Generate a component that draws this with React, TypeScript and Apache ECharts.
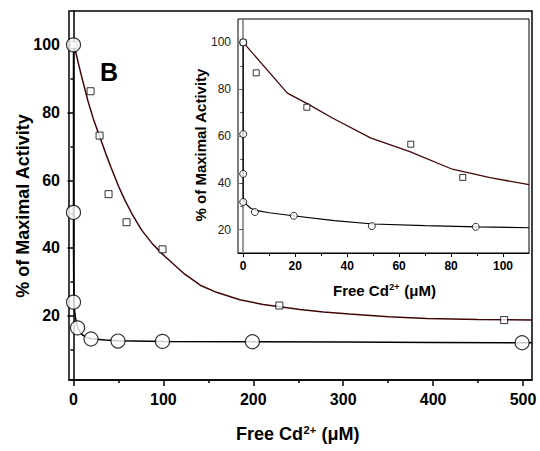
import React, { useEffect, useRef } from "react";
import * as echarts from "echarts";

// ---- Main panel data ----
const mainSquareX = [0, 19, 29, 39, 59, 99, 229, 479];
const mainSquareY = [100, 86.3, 73.2, 55.9, 47.6, 39.6, 23, 18.7];
const mainCircleX = [0, 0, 0, 4.5, 19.5, 49.5, 99, 199, 499];
const mainCircleY = [100, 50.5, 24, 16.4, 13.1, 12.5, 12.4, 12.3, 12.0];
const mainSquareFitX = [0, 1, 5, 9, 16, 22, 29, 36, 42, 50, 57, 66, 76, 87, 98, 109, 123, 141, 159, 185, 211, 252, 278, 307, 350, 393, 450, 510];
const mainSquareFitY = [100, 99.6, 95, 90.7, 83.5, 78.2, 73, 67.8, 63.6, 58.3, 54.2, 49.6, 45.2, 41.5, 38.4, 35.8, 32.4, 29.0, 26.9, 24.7, 23.3, 21.8, 21.1, 20.5, 19.7, 19.2, 18.9, 18.7];
const mainCircleFitX = [0, 0, 0.3, 1, 2, 3.5, 5, 7.5, 10, 15, 20, 35, 50, 100, 200, 300, 400, 510];
const mainCircleFitY = [100, 40, 27, 22, 19.7, 17.6, 16.3, 15.1, 14.3, 13.6, 13.2, 12.8, 12.6, 12.4, 12.3, 12.2, 12.1, 12.0];
const mainXTicks = [0, 100, 200, 300, 400, 500];
const mainXMinor = [50, 150, 250, 350, 450];
const mainYTicks = [20, 40, 60, 80, 100];
const mainYMinor = [10, 30, 50, 70, 90];

// ---- Inset data ----
const insetSquareX = [0, 5, 24.5, 64.5, 84.5];
const insetSquareY = [100, 87, 72.3, 56.5, 42.3];
const insetCircleX = [0, 0, 0, 0, 4.5, 19.5, 49.5, 89.5];
const insetCircleY = [100, 60.8, 43.8, 31.8, 27.5, 25.9, 21.5, 21.2];
const insetSquareFitX = [0, 17, 25, 34.5, 49.2, 63.9, 80.5, 95, 110];
const insetSquareFitY = [100, 78.3, 73.6, 67.6, 59.1, 53.4, 45.8, 42.2, 39.2];
const insetCircleFitX = [0, 0, 0.5, 1, 3, 5, 10, 20, 35, 50, 70, 90, 110];
const insetCircleFitY = [100, 34, 32, 31, 29, 28.2, 27.2, 25.8, 23.8, 22.4, 21.7, 21.2, 20.8];
const insetXTicks = [0, 20, 40, 60, 80, 100];
const insetXMinor = [10, 30, 50, 70, 90];
const insetYTicks = [20, 40, 60, 80, 100];
const insetYMinor = [30, 50, 70, 90];

const FONT = "'Liberation Sans', Arial, Helvetica, sans-serif";
const FIT_RED = "#420707";

const zip = (xs: number[], ys: number[]) => xs.map((x, i) => [x, ys[i]]);

const boldText = (text: string, x: number, y: number, size: number, align: string, vAlign: string, rotation = 0) => ({
  type: "text", x, y, rotation, z: 10,
  style: { text, fontFamily: FONT, fontWeight: "bold", fontSize: size, fill: "#000", align, verticalAlign: vAlign },
});

// axis title "Free Cd2+ (μM)" built from three pieces so the charge is a true superscript
const cdLabel = (left: number, baseline: number, size: number) => {
  const w1 = 3.723 * size; // width of "Free Cd" in bold Arial metrics
  const supSize = Math.round(size * 0.6);
  const w2 = 1.14 * supSize + 1;
  return [
    boldText("Free Cd", left, baseline, size, "left", "bottom"),
    boldText("2+", left + w1 + 0.5, baseline - size * 0.42, supSize, "left", "bottom"),
    boldText(" (μM)", left + w1 + w2, baseline, size, "left", "bottom"),
  ];
};

export default function App() {
  const ref = useRef<HTMLDivElement>(null);
  useEffect(() => {
    if (!ref.current) return;
    const chart = echarts.init(ref.current, null, { renderer: "svg" });
    const black = { color: "#000", width: 1.5 };
    const option: any = {
      animation: false,
      backgroundColor: "#fff",
      grid: [
        { left: 69, right: 8, top: 11, bottom: 71, show: true, borderColor: "#000", borderWidth: 1.5 },
        { left: 238, right: 11, top: 19, bottom: 198, show: true, borderColor: "#000", borderWidth: 1, backgroundColor: "#fff" },
      ],
      xAxis: [
        {
          gridIndex: 0, type: "value", min: -5, max: 510, position: "bottom",
          axisLine: { lineStyle: black },
          axisTick: { customValues: mainXTicks, length: 6, lineStyle: black },
          axisLabel: { customValues: mainXTicks, margin: 11, fontFamily: FONT, fontWeight: "bold", fontSize: 16, color: "#000" },
          splitLine: { show: false },
        },
        {
          gridIndex: 0, type: "value", min: -5, max: 510, position: "bottom",
          axisLine: { show: false },
          axisTick: { customValues: mainXMinor, length: 3, lineStyle: black },
          axisLabel: { show: false },
          splitLine: { show: false },
        },
        {
          gridIndex: 1, type: "value", min: -2, max: 110, position: "bottom",
          axisLine: { lineStyle: { color: "#000", width: 1 } },
          axisTick: { customValues: insetXTicks, length: 4, lineStyle: { color: "#000", width: 1 } },
          axisLabel: { customValues: insetXTicks, margin: 7, fontFamily: FONT, fontWeight: "bold", fontSize: 12, color: "#000" },
          splitLine: { show: false },
        },
        {
          gridIndex: 1, type: "value", min: -2, max: 110, position: "bottom",
          axisLine: { show: false },
          axisTick: { customValues: insetXMinor, length: 3, lineStyle: { color: "#000", width: 1 } },
          axisLabel: { show: false },
          splitLine: { show: false },
        },
      ],
      yAxis: [
        {
          gridIndex: 0, type: "value", min: 1, max: 110, position: "left",
          axisLine: { lineStyle: black },
          axisTick: { customValues: mainYTicks, length: 6, lineStyle: black },
          axisLabel: { customValues: mainYTicks, margin: 9, fontFamily: FONT, fontWeight: "bold", fontSize: 16, color: "#000" },
          splitLine: { show: false },
        },
        {
          gridIndex: 0, type: "value", min: 1, max: 110, position: "left",
          axisLine: { show: false },
          axisTick: { customValues: mainYMinor, length: 3, lineStyle: black },
          axisLabel: { show: false },
          splitLine: { show: false },
        },
        {
          gridIndex: 1, type: "value", min: 10, max: 110, position: "left",
          axisLine: { lineStyle: { color: "#777", width: 1.5 } },
          axisTick: { customValues: insetYTicks, length: 4, lineStyle: { color: "#555", width: 1 } },
          axisLabel: { customValues: insetYTicks, margin: 7, fontFamily: FONT, fontSize: 12, color: "#222" },
          splitLine: { show: false },
        },
        {
          gridIndex: 1, type: "value", min: 10, max: 110, position: "left",
          axisLine: { show: false },
          axisTick: { customValues: insetYMinor, length: 3, lineStyle: { color: "#555", width: 1 } },
          axisLabel: { show: false },
          splitLine: { show: false },
        },
      ],
      series: [
        {
          type: "line", xAxisIndex: 0, yAxisIndex: 0, data: zip(mainSquareFitX, mainSquareFitY),
          showSymbol: false, symbol: "none", lineStyle: { color: FIT_RED, width: 1.5 }, z: 2,
        },
        {
          type: "line", xAxisIndex: 0, yAxisIndex: 0, data: zip(mainCircleFitX, mainCircleFitY),
          showSymbol: false, symbol: "none", lineStyle: { color: "#000", width: 1.5 }, z: 2,
        },
        {
          type: "scatter", xAxisIndex: 0, yAxisIndex: 0, data: zip(mainSquareX, mainSquareY),
          symbol: "rect", symbolSize: 7, itemStyle: { color: "#fff", borderColor: "#000", borderWidth: 1 }, z: 3,
        },
        {
          type: "scatter", xAxisIndex: 0, yAxisIndex: 0, data: zip(mainCircleX, mainCircleY),
          symbol: "circle", symbolSize: 14, itemStyle: { color: "#fff", borderColor: "#000", borderWidth: 1.2 }, z: 4,
        },
        {
          type: "line", xAxisIndex: 2, yAxisIndex: 2, data: zip(insetSquareFitX, insetSquareFitY),
          showSymbol: false, symbol: "none", lineStyle: { color: FIT_RED, width: 1.3 }, z: 5,
        },
        {
          type: "line", xAxisIndex: 2, yAxisIndex: 2, data: zip(insetCircleFitX, insetCircleFitY),
          showSymbol: false, symbol: "none", lineStyle: { color: "#000", width: 1.2 }, z: 5,
        },
        {
          type: "scatter", xAxisIndex: 2, yAxisIndex: 2, data: zip(insetSquareX, insetSquareY),
          symbol: "rect", symbolSize: 6, itemStyle: { color: "#fff", borderColor: "#000", borderWidth: 1 }, z: 6,
        },
        {
          type: "scatter", xAxisIndex: 2, yAxisIndex: 2, data: zip(insetCircleX, insetCircleY),
          symbol: "circle", symbolSize: 7, itemStyle: { color: "#fff", borderColor: "#000", borderWidth: 1 }, z: 7,
        },
      ],
      graphic: [
        boldText("B", 109, 72, 25, "center", "middle"),
        boldText("% of Maximal Activity", 23, 206, 18, "center", "middle", Math.PI / 2),
        ...cdLabel(236, 443, 18),
        boldText("% of Maximal Activity", 200, 145, 15, "center", "middle", Math.PI / 2),
        ...cdLabel(333, 298, 15),
      ],
    };
    chart.setOption(option);
    return () => chart.dispose();
  }, []);
  return <div ref={ref} style={{ width: 540, height: 451, position: "absolute", left: 0, top: 0 }} />;
}
